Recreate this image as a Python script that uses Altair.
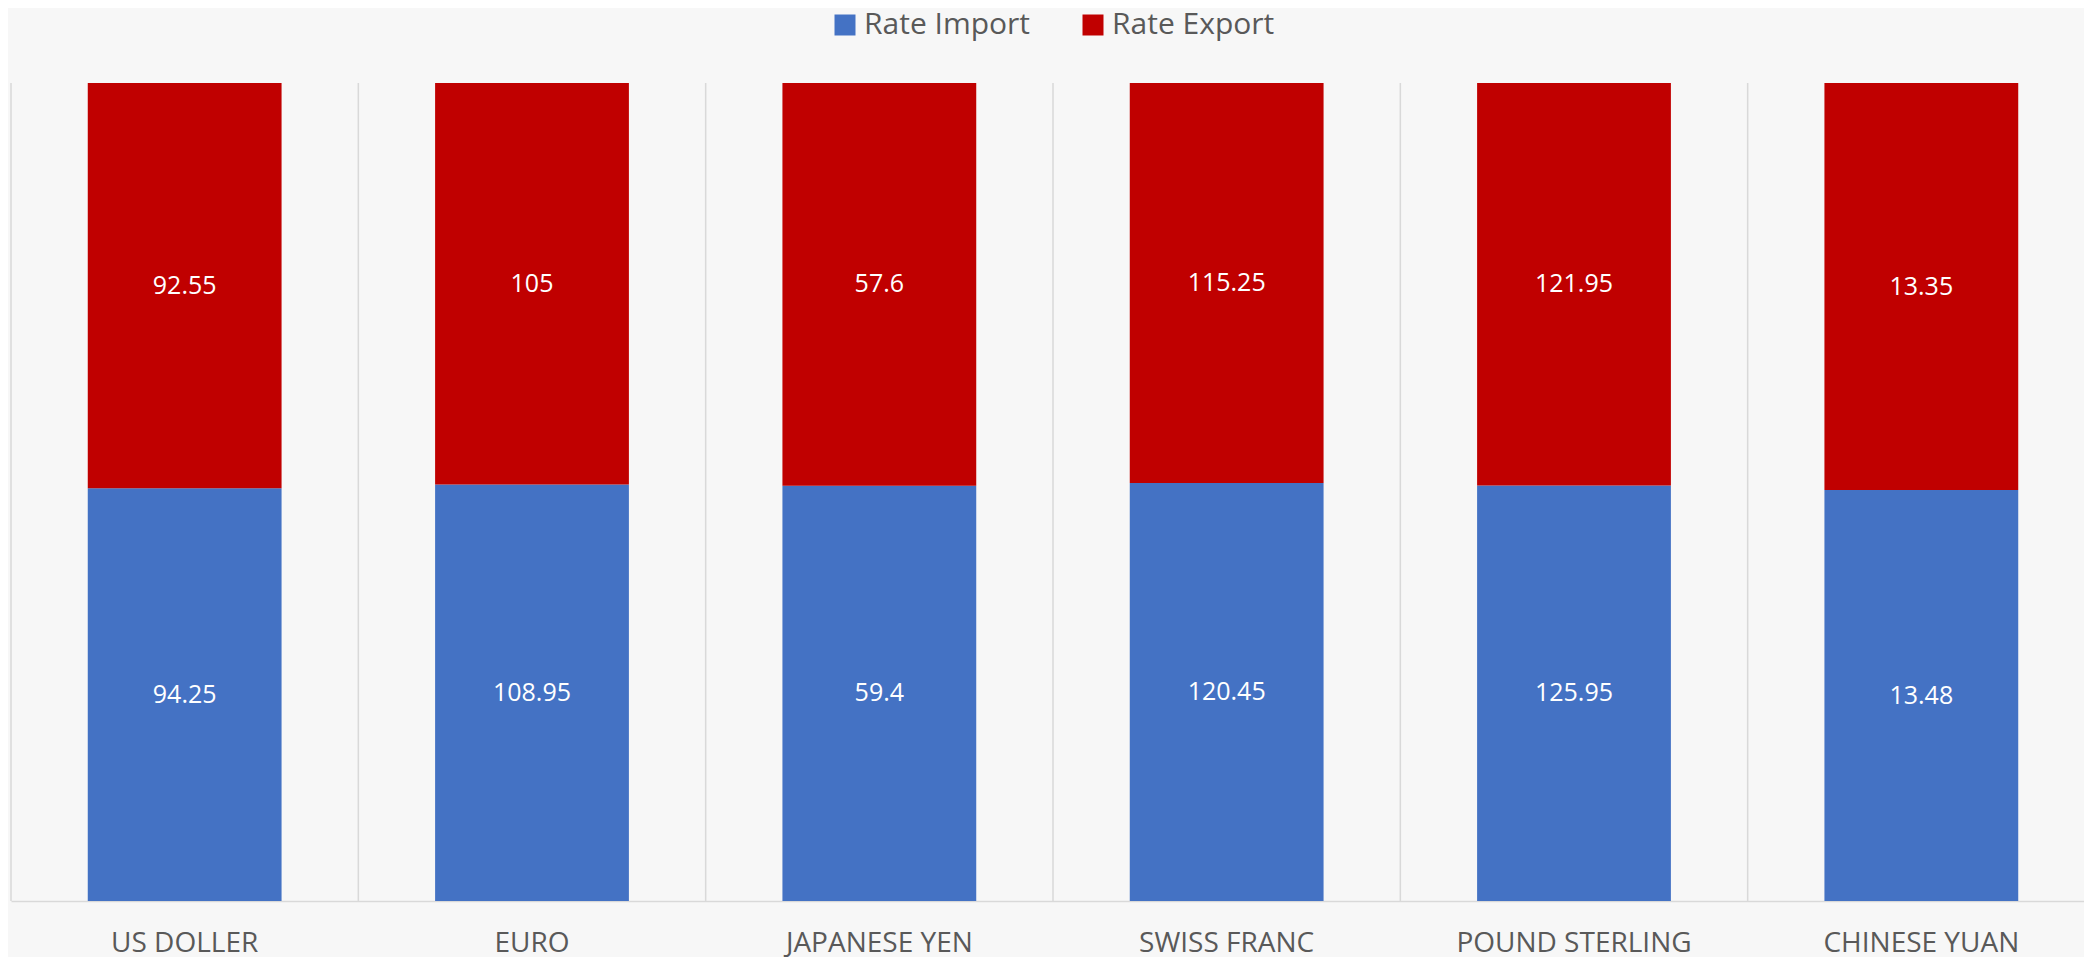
import altair as alt
import pandas as pd

currencies = ["US DOLLER", "EURO", "JAPANESE YEN", "SWISS FRANC", "POUND STERLING", "CHINESE YUAN"]
rate_import = [94.25, 108.95, 59.4, 120.45, 125.95, 13.48]
rate_export = [92.55, 105, 57.6, 115.25, 121.95, 13.35]
series = ["Rate Import", "Rate Export"]
colors = ["#4472C4", "#C00000"]

rows = []
for c, a, b in zip(currencies, rate_import, rate_export):
    rows.append({"currency": c, "series": series[0], "idx": 0, "value": a})
    rows.append({"currency": c, "series": series[1], "idx": 1, "value": b})
df = pd.DataFrame(rows)
cats = pd.DataFrame({"currency": currencies})

W, H = 2073, 818
xscale = alt.Scale(paddingInner=0, paddingOuter=0, rangeMin=0, rangeMax=2084)
x = alt.X("currency:N", sort=currencies, title=None, scale=xscale,
          axis=alt.Axis(labelAngle=0, labelAlign="center", ticks=False, grid=False,
                        domainColor="#d9d9d9", domainWidth=1.5,
                        labelFont="Open Sans", labelFontSize=28, labelColor="#595959",
                        labelBaseline="alphabetic", labelPadding=50, labelLimit=0))

grid = alt.Chart(cats).mark_rule(color="#d9d9d9", strokeWidth=1.5).encode(
    x=alt.X("currency:N", sort=currencies, bandPosition=0),
)

base = alt.Chart(df).transform_stack(
    stack="value", groupby=["currency"], as_=["y0", "y1"], offset="normalize",
    sort=[alt.SortField("idx", order="ascending")]
)

bars = base.mark_bar(width=alt.RelativeBandSize(0.558)).encode(
    x=x,
    y=alt.Y("y0:Q", axis=None, scale=alt.Scale(domain=[0, 1], nice=False)),
    y2="y1:Q",
    color=alt.Color("series:N", sort=series,
                    scale=alt.Scale(domain=series, range=colors),
                    legend=alt.Legend(title=None, orient="none", direction="horizontal",
                                      legendX=819, legendY=-73, symbolType="square",
                                      symbolSize=441, symbolStrokeWidth=0,
                                      labelFont="Open Sans", labelFontSize=30,
                                      labelColor="#595959", labelOffset=4, labelLimit=0,
                                      columnPadding=47, padding=0)),
)

labels = base.transform_calculate(mid="(datum.y0 + datum.y1) / 2").mark_text(
    color="white", font="Open Sans", fontSize=25, baseline="middle"
).encode(
    x=alt.X("currency:N", sort=currencies),
    y=alt.Y("mid:Q"),
    text=alt.Text("value:N"),
)

chart = alt.layer(grid, bars, labels).properties(
    width=W, height=H,
    autosize=alt.AutoSizeParams(type="none"),
    padding={"left": 3, "top": 75, "right": 0, "bottom": 60},
    background="#f7f7f7",
).configure_view(stroke=None, fill="#f7f7f7")

chart.save("out.html", embed_options={"renderer": "svg", "actions": False})
